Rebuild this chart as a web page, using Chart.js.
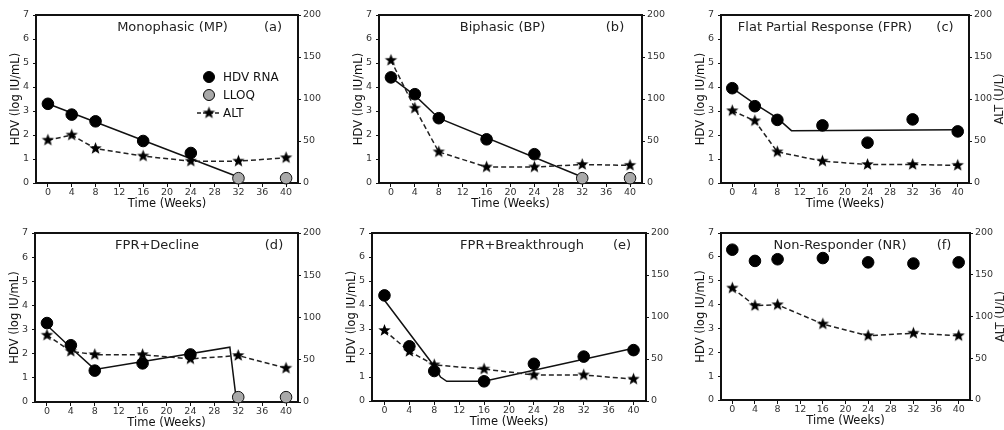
<!DOCTYPE html>
<html>
<head>
<meta charset="utf-8">
<script src="https://cdn.jsdelivr.net/npm/chart.js@4/dist/chart.umd.min.js"></script>
<style>
  html, body { margin: 0; padding: 0; background: #fff; width: 1004px; height: 430px; overflow: hidden; }
  canvas { position: absolute; }
</style>
</head>
<body>
<canvas id="pa"></canvas>
<canvas id="pb"></canvas>
<canvas id="pc"></canvas>
<canvas id="pd"></canvas>
<canvas id="pe"></canvas>
<canvas id="pf"></canvas>
<script>
// shared axes
const weeks = [0, 4, 8, 16, 24, 32, 40];
const xTicks = [0, 4, 8, 12, 16, 20, 24, 28, 32, 36, 40];
const hdvTicks = [0, 1, 2, 3, 4, 5, 6, 7];
const altTicks = [0, 50, 100, 150, 200];

// (a) Monophasic
const mpHdvWeeks = [0, 4, 8, 16, 24];
const mpHdv = [3.3, 2.85, 2.57, 1.75, 1.25];
const mpLloqWeeks = [32, 40];
const mpLloq = [0.2, 0.2];
const mpAlt = [51, 57, 41, 32, 26, 26, 30];
const mpFitWeeks = [0, 32];
const mpFit = [3.3, 0.25];

// (b) Biphasic
const bpHdvWeeks = [0, 4, 8, 16, 24];
const bpHdv = [4.4, 3.7, 2.7, 1.82, 1.2];
const bpLloqWeeks = [32, 40];
const bpLloq = [0.2, 0.2];
const bpAlt = [146, 89, 37, 19, 19, 22, 21];
const bpFitWeeks = [0, 4, 8, 32];
const bpFit = [4.4, 3.65, 2.7, 0.25];

// (c) Flat partial response
const fprHdvWeeks = [0, 4, 8, 16, 24, 32, 40];
const fprHdv = [3.95, 3.2, 2.63, 2.4, 1.68, 2.65, 2.15];
const fprAlt = [86, 74, 37, 26, 22, 22, 21];
const fprFitWeeks = [0, 4, 8, 10.5, 40];
const fprFit = [3.95, 3.3, 2.7, 2.18, 2.22];

// (d) FPR + decline
const decHdvWeeks = [0, 4, 8, 16, 24];
const decHdv = [3.27, 2.35, 1.3, 1.6, 1.97];
const decLloqWeeks = [32, 40];
const decLloq = [0.2, 0.2];
const decAlt = [79, 60, 56, 56, 51, 55, 40];
const decFitWeeks = [0, 4, 8, 30.6, 31.6];
const decFit = [3.18, 2.25, 1.35, 2.27, 0.25];

// (e) FPR + breakthrough
const brkHdvWeeks = [0, 4, 8, 16, 24, 32, 40];
const brkHdv = [4.4, 2.28, 1.25, 0.82, 1.55, 1.85, 2.12];
const brkAlt = [84, 59, 43, 38, 31, 31, 26];
const brkFitWeeks = [0, 8, 9, 10, 16, 40];
const brkFit = [4.2, 1.45, 1.0, 0.82, 0.82, 2.2];

// (f) Non-responder
const nrHdvWeeks = [0, 4, 8, 16, 24, 32, 40];
const nrHdv = [6.3, 5.83, 5.9, 5.95, 5.77, 5.72, 5.77];
const nrAlt = [134, 113, 114, 91, 77, 80, 77];

Chart.defaults.font.family = "'DejaVu Sans', sans-serif";
Chart.defaults.color = '#222';

const LEFT_W = 34, RIGHT_W = 36, TOP_PAD = 10, BOTTOM_H = 30;

function starImage(r) {
  const s = Math.ceil(2 * r + 2);
  const c = document.createElement('canvas');
  c.width = s; c.height = s;
  const g = c.getContext('2d');
  g.translate(s / 2, s / 2);
  g.beginPath();
  for (let i = 0; i < 10; i++) {
    const rad = i % 2 ? r * 0.42 : r;
    const a = -Math.PI / 2 + i * Math.PI / 5;
    g.lineTo(rad * Math.cos(a), rad * Math.sin(a));
  }
  g.closePath();
  g.fillStyle = '#000';
  g.fill();
  return c;
}
const star = starImage(6.5);

const pts = (xs, ys) => xs.map((x, i) => ({ x: x, y: ys[i] }));

// frame, in-plot titles, right axis title and the legend of panel (a)
const panelText = {
  id: 'panelText',
  beforeDatasetsDraw(chart) {
    const a = chart.chartArea, ctx = chart.ctx;
    ctx.save();
    ctx.strokeStyle = '#111';
    ctx.lineWidth = 2;
    ctx.strokeRect(a.left, a.top, a.right - a.left, a.bottom - a.top);
    ctx.restore();
  },
  afterDraw(chart, args, o) {
    const a = chart.chartArea, ctx = chart.ctx;
    ctx.save();
    ctx.fillStyle = '#222';
    ctx.font = "13px 'DejaVu Sans'";
    ctx.textAlign = 'center';
    ctx.textBaseline = 'middle';
    ctx.fillText(o.title, a.left + o.titleX, a.top + 13);
    ctx.fillText(o.tag, a.left + o.tagX, a.top + 13);
    if (o.rightTitle) {
      ctx.font = "11.5px 'DejaVu Sans'";
      ctx.translate(a.right + 31, (a.top + a.bottom) / 2);
      ctx.rotate(-Math.PI / 2);
      ctx.fillText('ALT (U/L)', 0, 0);
      ctx.setTransform(1, 0, 0, 1, 0, 0);
    }
    if (o.legend) {
      const cx = a.left + 173, ys = [a.top + 62, a.top + 80, a.top + 98];
      ctx.lineWidth = 1;
      ctx.strokeStyle = '#000';
      ctx.beginPath(); ctx.arc(cx, ys[0], 5.5, 0, Math.PI * 2);
      ctx.fillStyle = '#000'; ctx.fill(); ctx.stroke();
      ctx.beginPath(); ctx.arc(cx, ys[1], 5.5, 0, Math.PI * 2);
      ctx.fillStyle = '#a9a9a9'; ctx.fill(); ctx.stroke();
      ctx.setLineDash([4, 2]);
      ctx.lineWidth = 1.5;
      ctx.strokeStyle = '#222';
      ctx.beginPath(); ctx.moveTo(cx - 12, ys[2]); ctx.lineTo(cx + 12, ys[2]); ctx.stroke();
      ctx.setLineDash([]);
      ctx.drawImage(star, cx - star.width / 2, ys[2] - star.height / 2);
      ctx.fillStyle = '#111';
      ctx.font = "12px 'DejaVu Sans'";
      ctx.textAlign = 'left';
      ['HDV RNA', 'LLOQ', 'ALT'].forEach((t, i) => ctx.fillText(t, a.left + 187, ys[i] + 1));
    }
    ctx.restore();
  }
};

function makePanel(id, box, d, text) {
  const cv = document.getElementById(id);
  const w = LEFT_W + (box.R - box.L) + RIGHT_W;
  const h = TOP_PAD + (box.B - box.T) + BOTTOM_H;
  cv.width = w; cv.height = h;
  cv.style.left = (box.L - LEFT_W) + 'px';
  cv.style.top = (box.T - TOP_PAD) + 'px';

  const datasets = [
    { data: pts(d.hdvWeeks, d.hdv), yAxisID: 'y', order: 0, pointRadius: 5.8,
      pointBackgroundColor: '#000', pointBorderColor: '#000', pointBorderWidth: 1 }
  ];
  if (d.lloq) datasets.push({ data: pts(d.lloqWeeks, d.lloq), yAxisID: 'y', order: 1, pointRadius: 5.8,
    pointBackgroundColor: '#a9a9a9', pointBorderColor: '#111', pointBorderWidth: 1 });
  datasets.push({ data: pts(weeks, d.alt), yAxisID: 'y1', order: 2, showLine: true,
    borderColor: '#222', borderWidth: 1.5, borderDash: [5, 3], pointStyle: star, pointRadius: 6 });
  if (d.fit) datasets.push({ data: pts(d.fitWeeks, d.fit), yAxisID: 'y', order: 3, showLine: true,
    borderColor: '#111', borderWidth: 1.5, pointRadius: 0 });
  datasets.forEach(ds => { ds.clip = false; });

  const tickFont = { size: 9.5 };
  new Chart(cv, {
    type: 'scatter',
    data: { datasets: datasets },
    plugins: [panelText],
    options: {
      responsive: false,
      animation: false,
      events: [],
      layout: { padding: { top: TOP_PAD, left: 0, right: 0, bottom: 0 } },
      plugins: { legend: { display: false }, tooltip: { enabled: false }, panelText: text },
      scales: {
        x: {
          type: 'linear', min: -2, max: 42,
          afterBuildTicks: s => { s.ticks = xTicks.map(v => ({ value: v })); },
          afterFit: s => { s.height = BOTTOM_H; },
          grid: { drawOnChartArea: false, tickLength: 4, color: '#111' },
          border: { display: false },
          ticks: { font: tickFont, color: '#333', padding: 0, maxRotation: 0, autoSkip: false },
          title: { display: true, text: 'Time (Weeks)', font: { size: 11.5 }, color: '#111',
                   padding: { top: 0, bottom: 2 } }
        },
        y: {
          position: 'left', min: 0, max: 7,
          afterBuildTicks: s => { s.ticks = hdvTicks.map(v => ({ value: v })); },
          afterFit: s => { s.width = LEFT_W; },
          grid: { drawOnChartArea: false, tickLength: 3, color: '#111' },
          border: { display: false },
          ticks: { font: tickFont, color: '#333', padding: 4 },
          title: { display: true, text: 'HDV (log IU/mL)', font: { size: 11.5 }, color: '#111',
                   padding: { top: 7, bottom: 0 } }
        },
        y1: {
          position: 'right', min: 0, max: 200,
          afterBuildTicks: s => { s.ticks = altTicks.map(v => ({ value: v })); },
          afterFit: s => { s.width = RIGHT_W; },
          grid: { drawOnChartArea: false, tickLength: 3, color: '#111' },
          border: { display: false },
          ticks: { font: tickFont, color: '#333', padding: 2 }
        }
      }
    }
  });
}

makePanel('pa', { L: 36, R: 298, T: 15, B: 183 },
  { hdvWeeks: mpHdvWeeks, hdv: mpHdv, lloqWeeks: mpLloqWeeks, lloq: mpLloq, alt: mpAlt, fitWeeks: mpFitWeeks, fit: mpFit },
  { title: 'Monophasic (MP)', tag: '(a)', titleX: 136.5, tagX: 237, legend: true });
makePanel('pb', { L: 379, R: 642, T: 15, B: 183 },
  { hdvWeeks: bpHdvWeeks, hdv: bpHdv, lloqWeeks: bpLloqWeeks, lloq: bpLloq, alt: bpAlt, fitWeeks: bpFitWeeks, fit: bpFit },
  { title: 'Biphasic (BP)', tag: '(b)', titleX: 123.5, tagX: 236 });
makePanel('pc', { L: 721, R: 969, T: 15, B: 183 },
  { hdvWeeks: fprHdvWeeks, hdv: fprHdv, alt: fprAlt, fitWeeks: fprFitWeeks, fit: fprFit },
  { title: 'Flat Partial Response (FPR)', tag: '(c)', titleX: 104, tagX: 224, rightTitle: true });
makePanel('pd', { L: 35, R: 298, T: 233, B: 402 },
  { hdvWeeks: decHdvWeeks, hdv: decHdv, lloqWeeks: decLloqWeeks, lloq: decLloq, alt: decAlt, fitWeeks: decFitWeeks, fit: decFit },
  { title: 'FPR+Decline', tag: '(d)', titleX: 122, tagX: 239 });
makePanel('pe', { L: 372, R: 646, T: 233, B: 401 },
  { hdvWeeks: brkHdvWeeks, hdv: brkHdv, alt: brkAlt, fitWeeks: brkFitWeeks, fit: brkFit },
  { title: 'FPR+Breakthrough', tag: '(e)', titleX: 150, tagX: 250 });
makePanel('pf', { L: 721, R: 970, T: 233, B: 400 },
  { hdvWeeks: nrHdvWeeks, hdv: nrHdv, alt: nrAlt },
  { title: 'Non-Responder (NR)', tag: '(f)', titleX: 119, tagX: 223, rightTitle: true });
</script>
</body>
</html>
